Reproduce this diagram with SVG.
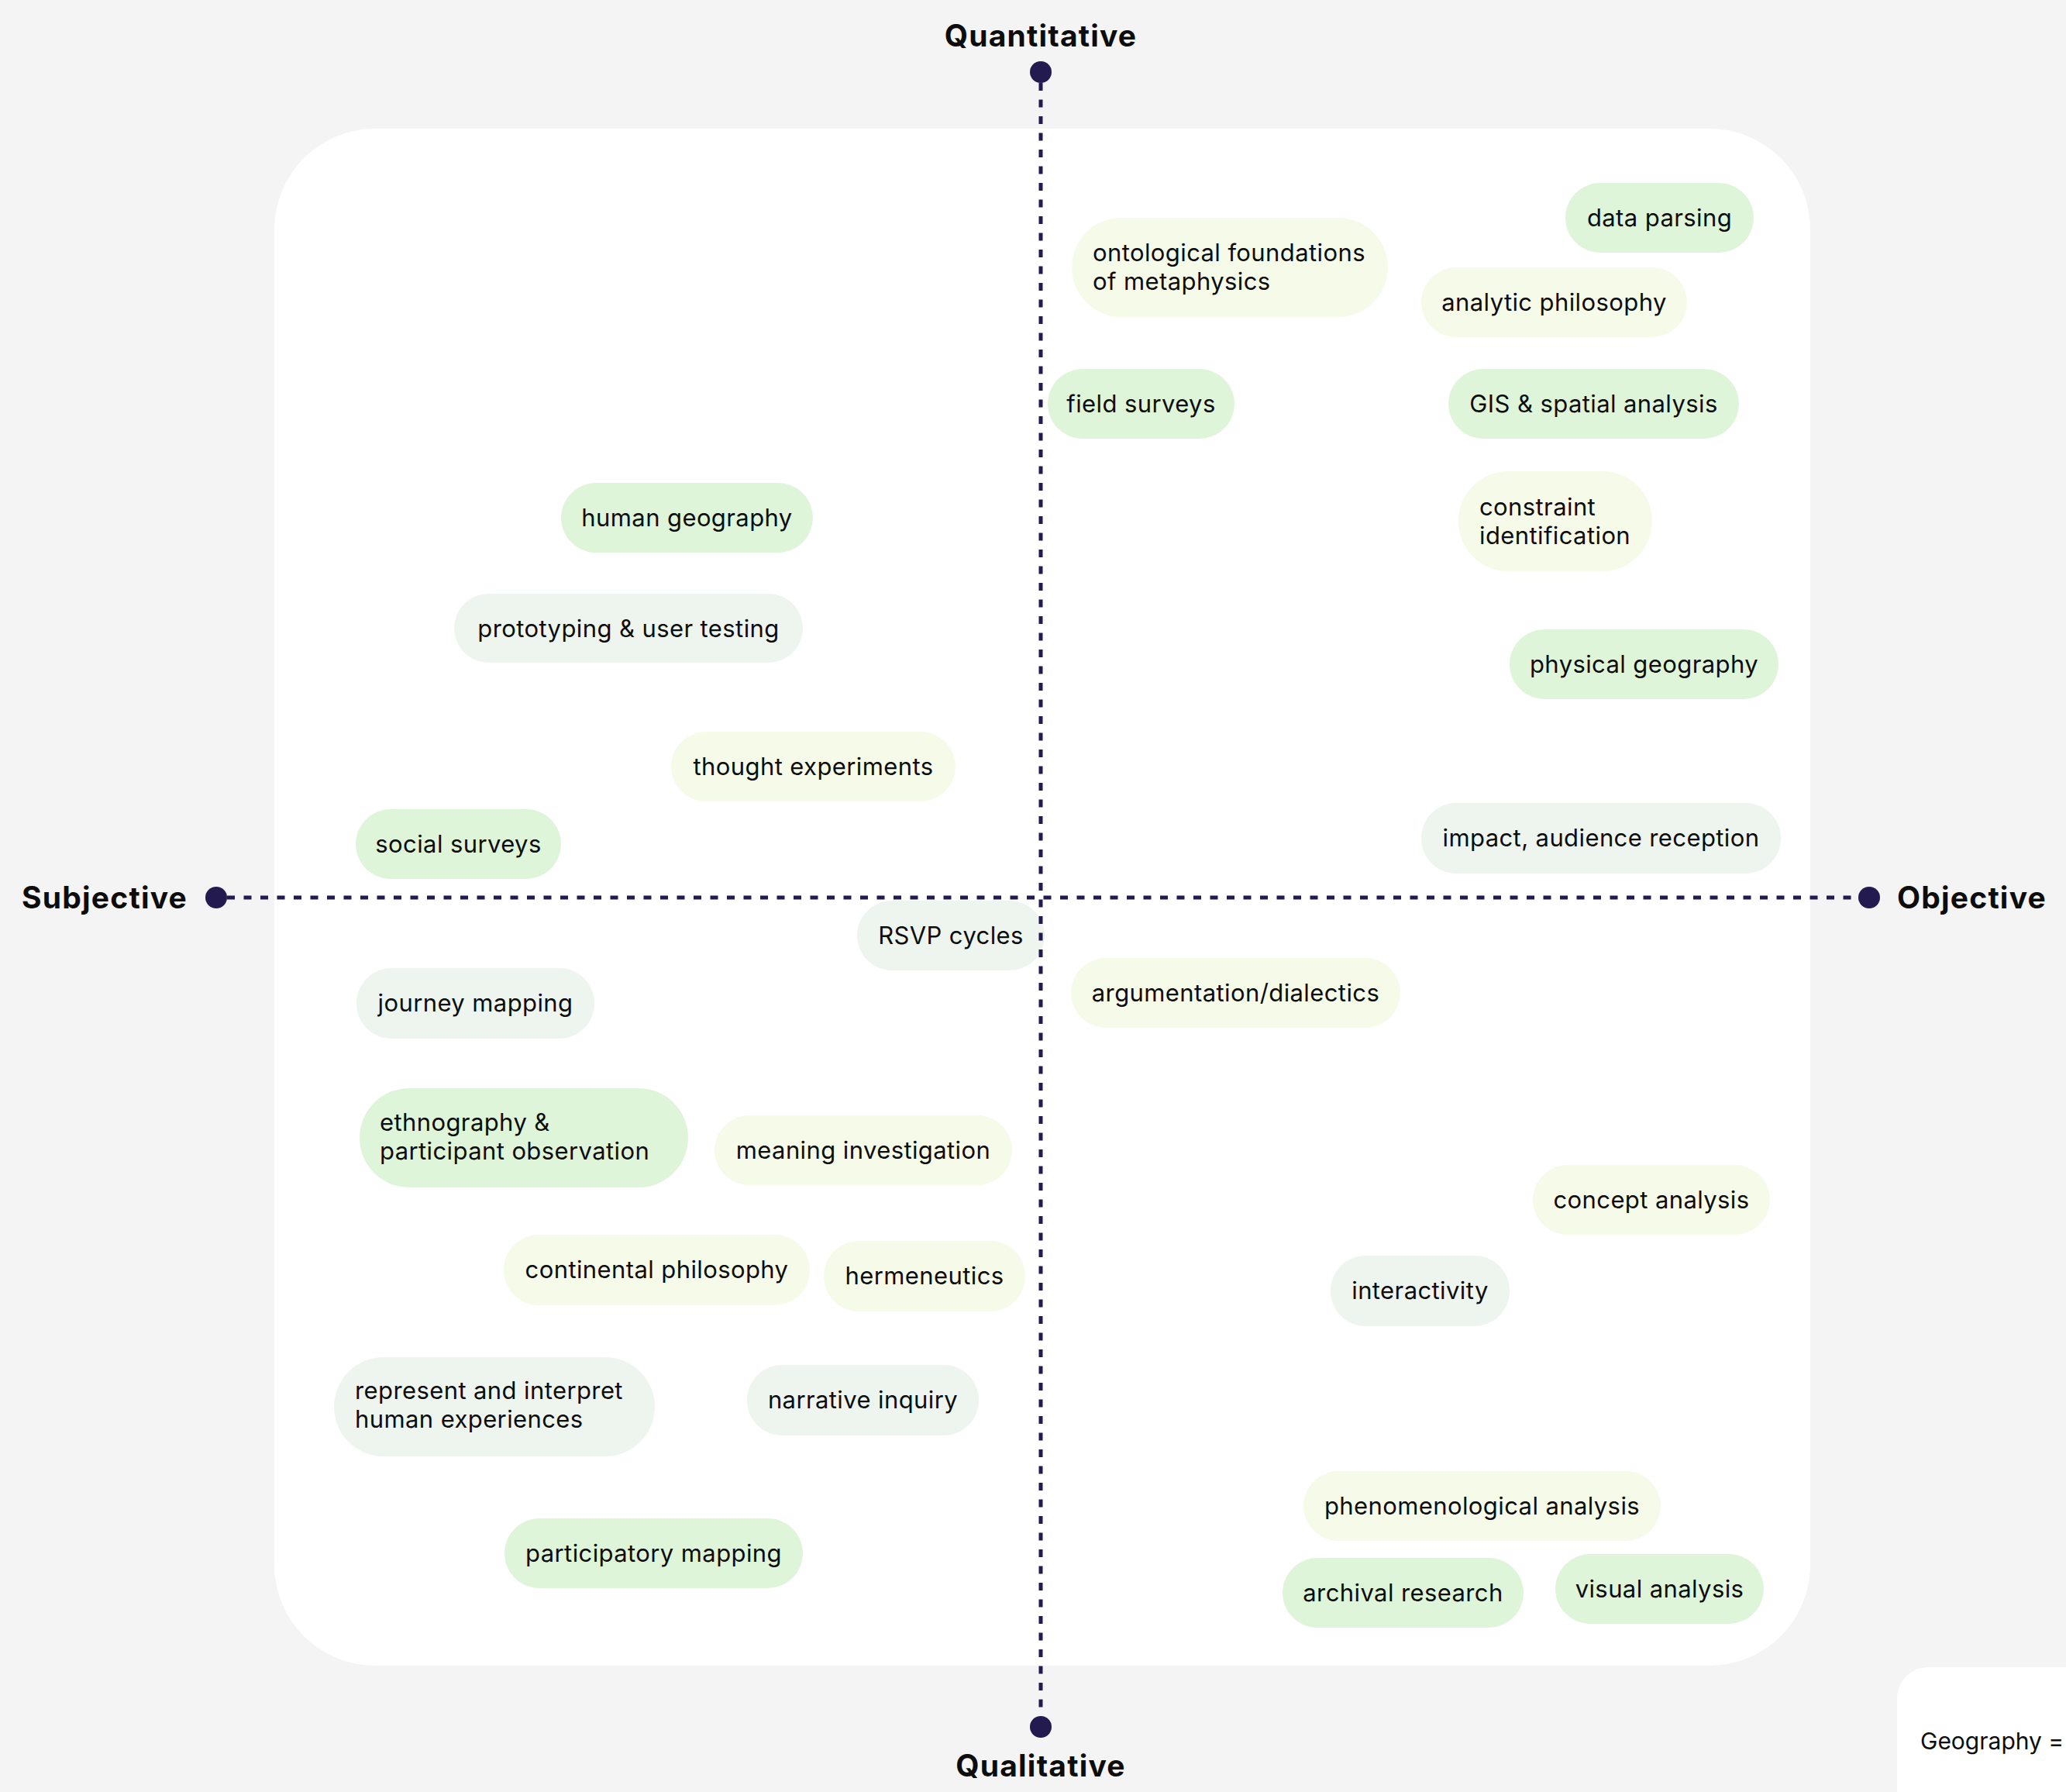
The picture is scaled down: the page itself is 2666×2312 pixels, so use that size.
<svg xmlns="http://www.w3.org/2000/svg" width="2666" height="2312" viewBox="0 0 2666 2312">
<style>
.bg{fill:#f4f4f4}
.panel{fill:#ffffff}
.geo{fill:#dff5d9}
.phi{fill:#f6fbe9}
.des{fill:#eef5ee}
.t{font-family:Inter,"Noto Sans","Liberation Sans",sans-serif;font-size:31px;letter-spacing:0.4px;fill:#0d0d0d}
.lg{font-family:Inter,"Noto Sans","Liberation Sans",sans-serif;font-size:30px;fill:#0d0d0d}
.c{text-anchor:middle}
.ax{font-family:Inter,"Noto Sans","Liberation Sans",sans-serif;font-size:39px;letter-spacing:1.2px;font-weight:700;fill:#0d0d0d}
.axis{stroke:#231a50;stroke-width:5;stroke-dasharray:10 11.5;fill:none}
.dot{fill:#231a50}
</style>
<rect class="bg" x="0" y="0" width="2666" height="2312"/>
<rect class="panel" x="354" y="166" width="1982" height="1983" rx="130"/>
<g id="legend">
<rect class="panel" x="2448" y="2151" width="320" height="300" rx="40"/>
<text class="lg" x="2478" y="2257">Geography =</text>
</g>
<g id="nodes">
<g id="n-data-parsing"><rect class="geo" x="2020" y="236" width="243" height="90" rx="45"/><text class="t c" x="2141.5" y="292">data parsing</text></g>
<g id="n-field-surveys"><rect class="geo" x="1352" y="476" width="241" height="90" rx="45"/><text class="t c" x="1472.5" y="532">field surveys</text></g>
<g id="n-gis"><rect class="geo" x="1869" y="476" width="375" height="90" rx="45"/><text class="t c" x="2056.5" y="532">GIS &amp; spatial analysis</text></g>
<g id="n-physical-geography"><rect class="geo" x="1948" y="812" width="347" height="90" rx="45"/><text class="t c" x="2121.5" y="868">physical geography</text></g>
<g id="n-human-geography"><rect class="geo" x="724" y="623" width="325" height="90" rx="45"/><text class="t c" x="886.5" y="679">human geography</text></g>
<g id="n-social-surveys"><rect class="geo" x="459" y="1044" width="265" height="90" rx="45"/><text class="t c" x="591.5" y="1100">social surveys</text></g>
<g id="n-ethnography"><rect class="geo" x="464" y="1404" width="424" height="128" rx="64"/><text class="t" x="490" y="1459">ethnography &amp;</text><text class="t" x="490" y="1496">participant observation</text></g>
<g id="n-participatory-mapping"><rect class="geo" x="651" y="1959" width="385" height="90" rx="45"/><text class="t c" x="843.5" y="2015">participatory mapping</text></g>
<g id="n-archival-research"><rect class="geo" x="1655" y="2010" width="311" height="90" rx="45"/><text class="t c" x="1810.5" y="2066">archival research</text></g>
<g id="n-visual-analysis"><rect class="geo" x="2007" y="2005" width="269" height="90" rx="45"/><text class="t c" x="2141.5" y="2061">visual analysis</text></g>

<g id="n-ontological"><rect class="phi" x="1383" y="281" width="408" height="128" rx="64"/><text class="t" x="1410" y="337">ontological foundations</text><text class="t" x="1410" y="374">of metaphysics</text></g>
<g id="n-analytic-philosophy"><rect class="phi" x="1834" y="345" width="343" height="90" rx="45"/><text class="t c" x="2005.5" y="401">analytic philosophy</text></g>
<g id="n-constraint"><rect class="phi" x="1882" y="608" width="250" height="129" rx="64"/><text class="t" x="1909" y="665">constraint</text><text class="t" x="1909" y="702">identification</text></g>
<g id="n-thought-experiments"><rect class="phi" x="866" y="944" width="367" height="90" rx="45"/><text class="t c" x="1049.5" y="1000">thought experiments</text></g>
<g id="n-argumentation"><rect class="phi" x="1382" y="1236" width="425" height="90" rx="45"/><text class="t c" x="1594.5" y="1292">argumentation/dialectics</text></g>
<g id="n-meaning-investigation"><rect class="phi" x="922" y="1439" width="384" height="90" rx="45"/><text class="t c" x="1114" y="1495">meaning investigation</text></g>
<g id="n-continental-philosophy"><rect class="phi" x="650" y="1593" width="395" height="91" rx="45"/><text class="t c" x="847.5" y="1649">continental philosophy</text></g>
<g id="n-hermeneutics"><rect class="phi" x="1063" y="1601" width="260" height="91" rx="45"/><text class="t c" x="1193" y="1657">hermeneutics</text></g>
<g id="n-concept-analysis"><rect class="phi" x="1978" y="1503" width="306" height="90" rx="45"/><text class="t c" x="2131" y="1559">concept analysis</text></g>
<g id="n-phenomenological"><rect class="phi" x="1682" y="1898" width="461" height="90" rx="45"/><text class="t c" x="1912.5" y="1954">phenomenological analysis</text></g>

<g id="n-prototyping"><rect class="des" x="586" y="766" width="450" height="89" rx="44.5"/><text class="t c" x="811" y="822">prototyping &amp; user testing</text></g>
<g id="n-impact"><rect class="des" x="1834" y="1036" width="464" height="91" rx="45"/><text class="t c" x="2066" y="1092">impact, audience reception</text></g>
<g id="n-rsvp"><rect class="des" x="1106" y="1162" width="242" height="90" rx="45"/><text class="t c" x="1227" y="1218">RSVP cycles</text></g>
<g id="n-journey-mapping"><rect class="des" x="460" y="1249" width="307" height="91" rx="45"/><text class="t c" x="613.5" y="1305">journey mapping</text></g>
<g id="n-represent"><rect class="des" x="431" y="1751" width="414" height="128" rx="64"/><text class="t" x="458" y="1805">represent and interpret</text><text class="t" x="458" y="1842">human experiences</text></g>
<g id="n-narrative-inquiry"><rect class="des" x="964" y="1761" width="299" height="91" rx="45"/><text class="t c" x="1113.5" y="1817">narrative inquiry</text></g>
<g id="n-interactivity"><rect class="des" x="1717" y="1620" width="231" height="91" rx="45"/><text class="t c" x="1832.5" y="1676">interactivity</text></g>
</g>
<g id="connectors">
<line class="axis" x1="1343" y1="107" x2="1343" y2="2214"/>
<line class="axis" x1="293" y1="1158" x2="2398" y2="1158"/>
<circle class="dot" cx="1343" cy="93" r="14"/>
<circle class="dot" cx="1343" cy="2228" r="14"/>
<circle class="dot" cx="279" cy="1158" r="14"/>
<circle class="dot" cx="2412" cy="1158" r="14"/>
</g>
<g id="axis-labels">
<text class="ax c" x="1343" y="60">Quantitative</text>
<text class="ax c" x="1343" y="2292">Qualitative</text>
<text class="ax" x="242" y="1172" text-anchor="end">Subjective</text>
<text class="ax" x="2448" y="1172">Objective</text>
</g>
</svg>
